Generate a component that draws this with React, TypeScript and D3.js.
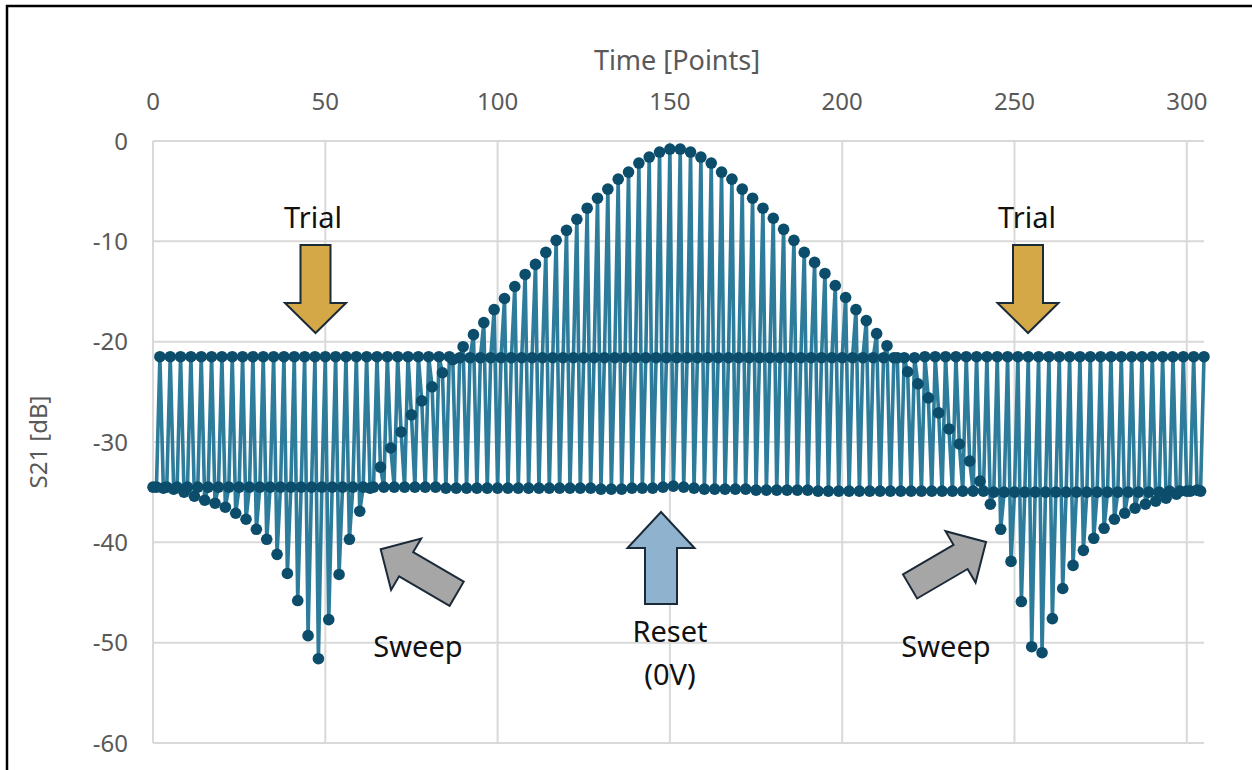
import React from "react";
import * as d3 from "d3";

// Sweep measurements at x = 0, 3, 6, ... (dB)
const sweepValues: number[] = [
  -34.5, -34.6, -34.7, -35.0, -35.4, -35.8, -36.1, -36.5, -37.1, -37.7,
  -38.7, -39.7, -41.2, -43.1, -45.8, -49.3, -51.6, -47.7, -43.2, -39.7,
  -36.9, -34.6, -32.5, -30.6, -29.0, -27.3, -25.9, -24.5, -23.1, -21.8,
  -20.5, -19.3, -18.1, -16.8, -15.7, -14.5, -13.3, -12.3, -11.1, -9.9,
  -8.9, -7.8, -6.7, -5.7, -4.8, -3.8, -3.1, -2.2, -1.6, -1.1,
  -0.8, -0.8, -1.1, -1.6, -2.2, -3.1, -3.8, -4.8, -5.7, -6.7,
  -7.7, -8.8, -9.9, -11.1, -12.1, -13.2, -14.4, -15.6, -16.8, -17.9,
  -19.2, -20.4, -21.6, -23.0, -24.2, -25.6, -27.1, -28.7, -30.2, -31.9,
  -33.9, -36.2, -38.7, -41.9, -45.9, -50.4, -51.0, -47.6, -44.6, -42.3,
  -40.8, -39.6, -38.6, -37.7, -37.1, -36.6, -36.2, -35.9, -35.6, -35.2,
  -34.9, -34.8,
];

// Reset (0V) measurements at x = 1, 4, 7, ... (dB)
const resetValues: number[] = [
  -34.5, -34.5, -34.5, -34.5, -34.5, -34.5, -34.5, -34.5, -34.5, -34.5,
  -34.5, -34.5, -34.5, -34.5, -34.5, -34.5, -34.5, -34.5, -34.5, -34.5,
  -34.5, -34.5, -34.5, -34.5, -34.5, -34.5, -34.5, -34.5, -34.6, -34.6,
  -34.6, -34.6, -34.6, -34.6, -34.6, -34.6, -34.6, -34.6, -34.6, -34.6,
  -34.6, -34.6, -34.6, -34.7, -34.7, -34.7, -34.6, -34.6, -34.6, -34.5,
  -34.4, -34.5, -34.6, -34.7, -34.7, -34.7, -34.7, -34.7, -34.8, -34.8,
  -34.8, -34.8, -34.8, -34.8, -34.9, -34.9, -34.9, -34.9, -34.9, -34.9,
  -34.9, -34.9, -34.9, -34.9, -34.9, -34.9, -34.9, -34.9, -34.9, -34.9,
  -34.9, -35.0, -35.0, -35.0, -35.0, -35.0, -35.0, -35.0, -35.0, -35.0,
  -35.0, -35.0, -35.0, -35.0, -35.0, -35.0, -35.0, -35.0, -34.9, -34.9,
  -34.9, -34.9,
];

// Trial measurements at x = 2, 5, 8, ... (dB)
const trialValues: number[] = [
  -21.5, -21.5, -21.5, -21.5, -21.5, -21.5, -21.5, -21.5, -21.5, -21.5,
  -21.5, -21.5, -21.5, -21.5, -21.5, -21.5, -21.5, -21.5, -21.5, -21.5,
  -21.5, -21.5, -21.5, -21.5, -21.5, -21.5, -21.5, -21.5, -21.5, -21.6,
  -21.6, -21.6, -21.6, -21.6, -21.6, -21.6, -21.6, -21.6, -21.6, -21.6,
  -21.6, -21.6, -21.6, -21.6, -21.6, -21.6, -21.6, -21.6, -21.6, -21.6,
  -21.6, -21.6, -21.6, -21.6, -21.6, -21.6, -21.6, -21.6, -21.6, -21.6,
  -21.6, -21.6, -21.6, -21.6, -21.6, -21.6, -21.6, -21.6, -21.6, -21.6,
  -21.6, -21.6, -21.6, -21.6, -21.5, -21.5, -21.5, -21.5, -21.5, -21.5,
  -21.5, -21.5, -21.5, -21.5, -21.5, -21.5, -21.5, -21.5, -21.5, -21.5,
  -21.5, -21.5, -21.5, -21.5, -21.5, -21.5, -21.5, -21.5, -21.5, -21.5,
  -21.5, -21.5,
];

const xTicks: number[] = [0, 50, 100, 150, 200, 250, 300];
const yTicks: number[] = [0, -10, -20, -30, -40, -50, -60];

const xTitle = "Time [Points]";
const yTitle = "S21 [dB]";

type Pt = { x: number; y: number };

function buildSeries(): Pt[] {
  const pts: Pt[] = [];
  for (let k = 0; k < sweepValues.length; k++) {
    pts.push({ x: 3 * k, y: sweepValues[k] });
    pts.push({ x: 3 * k + 1, y: resetValues[k] });
    pts.push({ x: 3 * k + 2, y: trialValues[k] });
  }
  return pts;
}

function arrowPath(
  tipX: number,
  tipY: number,
  dirX: number,
  dirY: number,
  len: number,
  shaftW: number,
  headW: number,
  headLen: number
): string {
  const m = Math.hypot(dirX, dirY);
  const dx = dirX / m;
  const dy = dirY / m;
  const nx = -dy;
  const ny = dx;
  const bx = tipX - dx * headLen;
  const by = tipY - dy * headLen;
  const tx = tipX - dx * len;
  const ty = tipY - dy * len;
  const p = [
    [tipX, tipY],
    [bx + nx * headW / 2, by + ny * headW / 2],
    [bx + nx * shaftW / 2, by + ny * shaftW / 2],
    [tx + nx * shaftW / 2, ty + ny * shaftW / 2],
    [tx - nx * shaftW / 2, ty - ny * shaftW / 2],
    [bx - nx * shaftW / 2, by - ny * shaftW / 2],
    [bx - nx * headW / 2, by - ny * headW / 2],
  ];
  return "M" + p.map((q) => q[0].toFixed(1) + "," + q[1].toFixed(1)).join("L") + "Z";
}

export default function App() {
  const W = 1252;
  const H = 770;
  const x = d3.scaleLinear().domain([0, 305]).range([153, 1204]);
  const y = d3.scaleLinear().domain([-60, 0]).range([743, 141]);
  const data = buildSeries();
  const line = d3
    .line<Pt>()
    .x((d) => x(d.x))
    .y((d) => y(d.y));

  const font = "'Noto Sans', 'Open Sans', sans-serif";
  const gridColor = "#d9d9d9";
  const axisText = "#595959";
  const lineColor = "#2e7c9b";
  const markerColor = "#0b4d6b";
  const outline = "#1b2a38";

  return (
    <svg
      width={W}
      height={H}
      style={{ position: "absolute", left: 0, top: 0, background: "#fff" }}
      fontFamily={font}
    >
      <rect x={0} y={0} width={W} height={H} fill="#fff" />
      {/* outer frame */}
      <rect x={7} y={6} width={W + 20} height={H + 20} fill="none" stroke="#000" strokeWidth={2.5} />

      {/* gridlines */}
      {yTicks.map((t) => (
        <line key={"gy" + t} x1={x(0)} x2={x(305)} y1={y(t)} y2={y(t)} stroke={gridColor} strokeWidth={2} />
      ))}
      {xTicks.map((t) => (
        <line key={"gx" + t} x1={x(t)} x2={x(t)} y1={y(0)} y2={y(-60)} stroke={gridColor} strokeWidth={2} />
      ))}

      {/* x tick labels (top) */}
      {xTicks.map((t) => (
        <text key={"tx" + t} x={x(t)} y={110} textAnchor="middle" fontSize={24} fill={axisText}>
          {t}
        </text>
      ))}
      {/* y tick labels */}
      {yTicks.map((t) => (
        <text key={"ty" + t} x={128} y={y(t) + 8.5} textAnchor="end" fontSize={24} fill={axisText}>
          {t}
        </text>
      ))}

      {/* axis titles */}
      <text x={677} y={70} textAnchor="middle" fontSize={27} fill={axisText}>
        {xTitle}
      </text>
      <text
        transform={`translate(47, ${(y(0) + y(-60)) / 2}) rotate(-90)`}
        textAnchor="middle"
        fontSize={24}
        fill={axisText}
      >
        {yTitle}
      </text>

      {/* series */}
      <path d={line(data) || ""} fill="none" stroke={lineColor} strokeWidth={3.6} strokeLinejoin="round" />
      {data.map((d, i) => (
        <circle key={i} cx={x(d.x)} cy={y(d.y)} r={5.8} fill={markerColor} />
      ))}

      {/* annotations */}
      <path d={arrowPath(315.5, 333, 0, 1, 88, 30, 61, 30)} fill="#d4a846" stroke={outline} strokeWidth={2} strokeLinejoin="miter" />
      <path d={arrowPath(1028, 333, 0, 1, 88, 30, 61, 30)} fill="#d4a846" stroke={outline} strokeWidth={2} strokeLinejoin="miter" />
      <path d={arrowPath(661, 512, 0, -1, 92, 32, 67, 36)} fill="#8fb3cf" stroke={outline} strokeWidth={2} strokeLinejoin="miter" />
      <path d={arrowPath(380.7, 549.3, -76, -44.5, 88, 28, 59.5, 29.5)} fill="#a6a6a6" stroke={outline} strokeWidth={2} strokeLinejoin="miter" />
      <path d={arrowPath(986, 542, 76, -44.5, 88, 28, 59.5, 29.5)} fill="#a6a6a6" stroke={outline} strokeWidth={2} strokeLinejoin="miter" />

      <text x={313} y={228} textAnchor="middle" fontSize={29} fill="#111">Trial</text>
      <text x={1027} y={228} textAnchor="middle" fontSize={29} fill="#111">Trial</text>
      <text x={418} y={657} textAnchor="middle" fontSize={29} fill="#111">Sweep</text>
      <text x={946} y={657} textAnchor="middle" fontSize={29} fill="#111">Sweep</text>
      <text x={670} y={642} textAnchor="middle" fontSize={29} fill="#111">Reset</text>
      <text x={670} y={685} textAnchor="middle" fontSize={29} fill="#111">(0V)</text>
    </svg>
  );
}
